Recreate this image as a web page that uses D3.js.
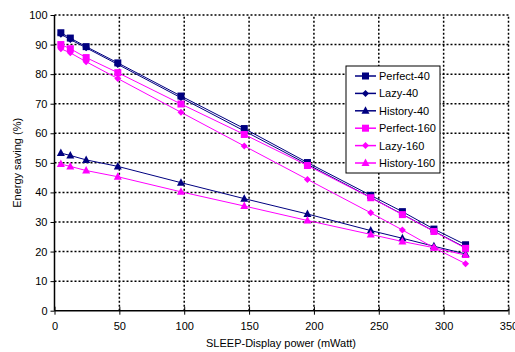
<!DOCTYPE html>
<html>
<head>
<meta charset="utf-8">
<script src="https://cdn.jsdelivr.net/npm/d3@7"></script>
<style>
  body { margin: 0; background: #fff; }
  svg text { font-family: "Liberation Sans", Arial, sans-serif; }
</style>
</head>
<body>
<div id="chart"></div>
<script>
// power points (mWatt)
const power = [4.9, 12.2, 24.4, 48.8, 97.5, 146.3, 195, 243.8, 268.2, 292.5, 316.9];
const perfect40  = [94, 92.2, 89.3, 83.8, 72.6, 61.6, 50.1, 39, 33.5, 27.6, 22.3];
const lazy40     = [93.5, 91.7, 88.9, 83.3, 72, 60.8, 49.5, 38.3, 32.6, 26.9, 21.3];
const history40  = [53.3, 52.5, 51, 48.8, 43.3, 37.9, 32.7, 27.1, 24.5, 21.8, 19.2];
const perfect160 = [90, 88.6, 85.6, 80.5, 69.9, 59.6, 49.1, 38.2, 32.5, 26.8, 21.1];
const lazy160    = [88.6, 87.2, 84.2, 78.5, 67.1, 55.7, 44.4, 33.1, 27.3, 21.3, 15.9];
const history160 = [49.6, 48.8, 47.4, 45.3, 40.2, 35.4, 30.5, 25.8, 23.4, 21.3, 18.8];
const xTicks = [0, 50, 100, 150, 200, 250, 300, 350];
const yTicks = [0, 10, 20, 30, 40, 50, 60, 70, 80, 90, 100];

const series = [
  {name: "Perfect-40", values: perfect40, color: "#000080", shape: "square"},
  {name: "Lazy-40", values: lazy40, color: "#000080", shape: "diamond"},
  {name: "History-40", values: history40, color: "#000080", shape: "triangle"},
  {name: "Perfect-160", values: perfect160, color: "#ff00ff", shape: "square"},
  {name: "Lazy-160", values: lazy160, color: "#ff00ff", shape: "diamond"},
  {name: "History-160", values: history160, color: "#ff00ff", shape: "triangle"}
];

const W = 515, H = 352;
const x = d3.scaleLinear().domain([0, 350]).range([54.5, 508.5]);
const y = d3.scaleLinear().domain([0, 100]).range([310.7, 15]);

const svg = d3.select("#chart").append("svg").attr("width", W).attr("height", H);

// dotted grid
svg.append("g").selectAll("line").data(yTicks.filter(d => d > 0)).enter().append("line")
  .attr("x1", x(0)).attr("x2", x(350))
  .attr("y1", d => y(d)).attr("y2", d => y(d))
  .attr("stroke", "#000").attr("stroke-width", 1.5).attr("stroke-dasharray", "2,2");
svg.append("g").selectAll("line").data(xTicks.filter(d => d > 0)).enter().append("line")
  .attr("x1", d => x(d)).attr("x2", d => x(d))
  .attr("y1", y(0)).attr("y2", y(100))
  .attr("stroke", "#000").attr("stroke-width", 1.5).attr("stroke-dasharray", "2,2");

// axes
const xAxis = svg.append("g").attr("transform", `translate(0,${y(0)})`)
  .call(d3.axisBottom(x).tickValues(xTicks).tickSize(4).tickPadding(8));
xAxis.selectAll(".tick line").attr("y1", -4);
const yAxis = svg.append("g").attr("transform", `translate(${x(0)},0)`)
  .call(d3.axisLeft(y).tickValues(yTicks).tickSize(4).tickPadding(3));
[xAxis, yAxis].forEach(a => {
  a.select(".domain").attr("stroke-width", 1.5);
  a.selectAll(".tick line").attr("stroke-width", 1);
  a.selectAll("text").attr("font-size", 11).attr("fill", "#000");
});
xAxis.select(".domain").attr("d", `M${x(0)},0H${x(350)}`);
yAxis.select(".domain").attr("d", `M0,${y(0)}V${y(100)}`);

svg.append("text").attr("x", 281).attr("y", 347).attr("text-anchor", "middle")
  .attr("font-size", 11).text("SLEEP-Display power (mWatt)");
svg.append("text").attr("transform", `translate(21,${y(50)}) rotate(-90)`)
  .attr("text-anchor", "middle").attr("font-size", 11).text("Energy saving (%)");

function marker(g, shape, color) {
  if (shape === "square") {
    g.append("rect").attr("x", -3.5).attr("y", -3.5).attr("width", 7).attr("height", 7).attr("fill", color);
  } else if (shape === "diamond") {
    g.append("path").attr("d", "M0,-3.5L3.5,0L0,3.5L-3.5,0Z").attr("fill", color);
  } else {
    g.append("path").attr("d", "M0,-4.5L4,3L-4,3Z").attr("fill", color);
  }
}

const line = d3.line().x((d, i) => x(power[i])).y(d => y(d));
series.forEach(s => {
  svg.append("path").datum(s.values).attr("d", line)
    .attr("fill", "none").attr("stroke", s.color).attr("stroke-width", 1);
  svg.append("g").selectAll("g").data(s.values).enter().append("g")
    .attr("transform", (d, i) => `translate(${x(power[i])},${y(d)})`)
    .each(function() { marker(d3.select(this), s.shape, s.color); });
});

// legend
const lg = svg.append("g").attr("transform", "translate(346,66)");
lg.append("rect").attr("width", 94).attr("height", 107).attr("fill", "#fff")
  .attr("stroke", "#000").attr("stroke-width", 1);
series.forEach((s, i) => {
  const row = lg.append("g").attr("transform", `translate(0,${10 + i * 17.4})`);
  row.append("line").attr("x1", 9).attr("x2", 30).attr("stroke", s.color).attr("stroke-width", 1.5);
  const m = row.append("g").attr("transform", "translate(19.5,0)");
  marker(m, s.shape, s.color);
  row.append("text").attr("x", 33).attr("y", 4).attr("font-size", 11).text(s.name);
});
</script>
</body>
</html>
